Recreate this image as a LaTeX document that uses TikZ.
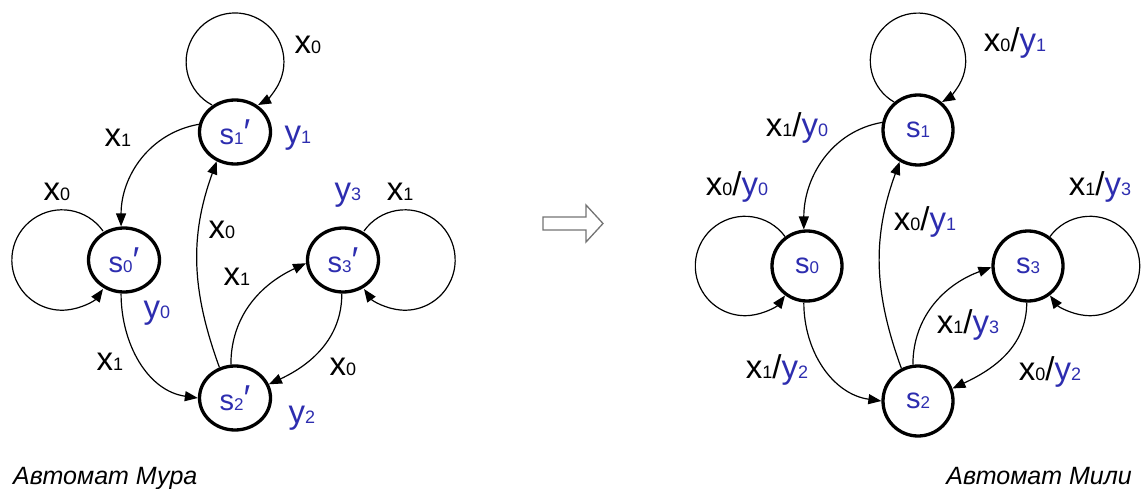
\documentclass[tikz,border=0pt]{standalone}
\usepackage{fontspec}
\setmainfont{Liberation Sans}
\usetikzlibrary{shapes.geometric,arrows.meta}
\definecolor{sblue}{RGB}{45,45,175}
\definecolor{agray}{RGB}{115,115,115}
\newcommand\smn[1]{{\fontsize{18}{18}\selectfont #1}}
\newcommand\ssn[1]{{\fontsize{17}{17}\selectfont #1}}
\newcommand\X[1]{x\smn{#1}}
\newcommand\Y[1]{\textcolor{sblue}{y\smn{#1}}}
\newcommand\St[1]{s\ssn{#1}}
\newcommand\prm{{\fontsize{36}{36}\selectfont ′}}
\tikzset{
  mstate/.style={ellipse, draw, line width=3.3pt, minimum width=71pt, minimum height=64pt, inner sep=0pt, text=sblue, font=\fontsize{29}{29}\selectfont},
  ystate/.style={circle, draw, line width=3.3pt, minimum size=70pt, inner sep=0pt, text=sblue, font=\fontsize{29}{29}\selectfont},
  edge/.style={line width=1.2pt, -{Triangle[length=13pt,width=10pt]}},
  lbl/.style={font=\fontsize{33}{33}\selectfont, inner sep=0pt},
  captxt/.style={font=\fontsize{25}{25}\selectfont\itshape, inner sep=0pt}
}
\begin{document}
\begin{tikzpicture}[x=1pt,y=1pt]
\useasboundingbox (0,0) rectangle (1142,488);
% ---------- Moore ----------
\node[mstate] (s1m) at (235,356) {\St{1}\prm};
\node[mstate] (s0m) at (124,228) {\St{0}\prm};
\node[mstate] (s3m) at (343,228) {\St{3}\prm};
\node[mstate] (s2m) at (235,90) {\St{2}\prm};
\draw[edge] ([shift={(-23,27)}]s1m.center) arc[start angle=241.9, end angle=-61.9, radius=48.9];
\draw[edge] ([shift={(-21,29)}]s0m.center) arc[start angle=35.3, end angle=324.7, radius=50.2];
\draw[edge] ([shift={(21,29)}]s3m.center) arc[start angle=144.7, end angle=-144.7, radius=50.2];
\draw[edge] (s1m.168) to[out=190, in=90] (s0m.95);
\draw[edge] (s0m.265) to[out=270, in=172] (s2m.180);
\draw[edge] (s2m.117) to[out=110, in=250] (s1m.238);
\draw[edge] (s2m.97) to[out=90, in=205] (s3m.185);
\draw[edge] (s3m.268) to[out=270, in=25] (s2m.22);
\node[lbl] (m1) at (308,443) {\X{0}};
\node[lbl] (m2) at (118,350) {\X{1}};
\node[lbl] (m3) at (298,350) {\Y{1}};
\node[lbl] (m4) at (57,296) {\X{0}};
\node[lbl] (m5) at (348,293) {\Y{3}};
\node[lbl] (m6) at (400,296) {\X{1}};
\node[lbl] (m7) at (222,258) {\X{0}};
\node[lbl] (m8) at (237,211) {\X{1}};
\node[lbl] (m9) at (157,175) {\Y{0}};
\node[lbl] (m10) at (110,126) {\X{1}};
\node[lbl] (m11) at (343,121) {\X{0}};
\node[lbl] (m12) at (302,70) {\Y{2}};
\node[captxt, anchor=base west] (capm) at (13,4) {Автомат Мура};
% ---------- transition arrow ----------
\draw[agray, line width=1.3pt, line join=miter] (543,258) -- (586,258) -- (586,246) -- (603,264.5) -- (586,283) -- (586,271) -- (543,271) -- cycle;
% ---------- Mealy ----------
\node[ystate] (s1) at (918,358) {\St{1}};
\node[ystate] (s0) at (807,222) {\St{0}};
\node[ystate] (s3) at (1028,222) {\St{3}};
\node[ystate] (s2) at (918,87) {\St{2}};
\draw[edge] ([shift={(-24,28)}]s1.center) arc[start angle=239.8, end angle=-59.8, radius=47.7];
\draw[edge] ([shift={(-22,29.5)}]s0.center) arc[start angle=36.4, end angle=323.6, radius=49.7];
\draw[edge] ([shift={(22,29.5)}]s3.center) arc[start angle=143.6, end angle=-143.6, radius=49.7];
\draw[edge] (s1.168) to[out=190, in=90] (s0.95);
\draw[edge] (s0.265) to[out=270, in=172] (s2.180);
\draw[edge] (s2.117) to[out=110, in=250] (s1.240);
\draw[edge] (s2.98) to[out=90, in=200] (s3.182);
\draw[edge] (s3.268) to[out=270, in=25] (s2.20);
\node[lbl] (r1) at (1015,445) {\X{0}/\Y{1}};
\node[lbl] (r2) at (797,360) {\X{1}/\Y{0}};
\node[lbl] (r3) at (737,301) {\X{0}/\Y{0}};
\node[lbl] (r4) at (1100,301) {\X{1}/\Y{3}};
\node[lbl] (r5) at (925,266) {\X{0}/\Y{1}};
\node[lbl] (r6) at (968,163) {\X{1}/\Y{3}};
\node[lbl] (r7) at (777,118) {\X{1}/\Y{2}};
\node[lbl] (r8) at (1050,116) {\X{0}/\Y{2}};
\node[captxt, anchor=base east] (capy) at (1132,4) {Автомат Мили};
\end{tikzpicture}
\end{document}
